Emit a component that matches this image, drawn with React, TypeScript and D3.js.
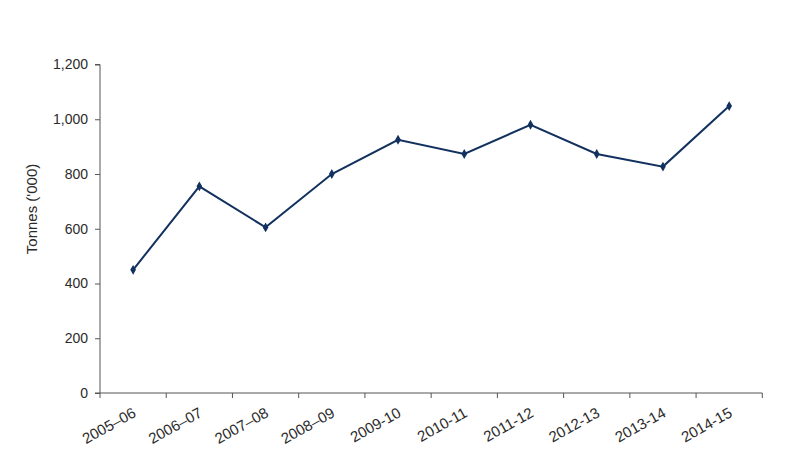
import React, { useEffect, useRef } from "react";
import * as d3 from "d3";

const years = [
  "2005–06",
  "2006–07",
  "2007–08",
  "2008–09",
  "2009-10",
  "2010-11",
  "2011-12",
  "2012-13",
  "2013-14",
  "2014-15",
];
const tonnes = [450, 755, 605, 800, 925, 873, 980, 873, 827, 1048];
const yTicks = [0, 200, 400, 600, 800, 1000, 1200];

const W = 800;
const H = 456;

const App: React.FC = () => {
  const ref = useRef<SVGSVGElement | null>(null);

  useEffect(() => {
    const svg = d3.select(ref.current);
    svg.selectAll("*").remove();

    svg.append("rect").attr("width", W).attr("height", H).attr("fill", "#ffffff");

    const left = 100;
    const right = 762.3;
    const top = 64.5;
    const bottom = 393;

    const x = d3.scaleBand<string>().domain(years).range([left, right]);
    const y = d3.scaleLinear().domain([0, 1200]).range([bottom, top]);

    const font = "'Liberation Sans', Arial, sans-serif";
    const axisColor = "#555";
    const textColor = "#2b2b2b";

    // y axis
    const yAxis = svg
      .append("g")
      .attr("transform", `translate(${left},0)`)
      .call(
        d3
          .axisLeft(y)
          .tickValues(yTicks)
          .tickSize(5)
          .tickPadding(7)
          .tickFormat((d) => d3.format(",")(d as number))
      );
    yAxis.select(".domain").attr("stroke", axisColor).attr("d", `M-5,${top}H0V${bottom}H-5`);
    yAxis.selectAll(".tick line").attr("stroke", axisColor);
    yAxis
      .selectAll(".tick text")
      .attr("fill", textColor)
      .style("font-family", font)
      .style("font-size", "14px");

    // x axis, ticks sit on category boundaries
    const xg = svg.append("g");
    xg.append("line")
      .attr("x1", left)
      .attr("x2", right)
      .attr("y1", bottom)
      .attr("y2", bottom)
      .attr("stroke", axisColor);
    const bounds = years.map((d) => x(d)!).concat([right]);
    xg.selectAll("line.tk")
      .data(bounds)
      .enter()
      .append("line")
      .attr("class", "tk")
      .attr("x1", (d) => d)
      .attr("x2", (d) => d)
      .attr("y1", bottom)
      .attr("y2", bottom + 5)
      .attr("stroke", axisColor);
    xg.selectAll("text")
      .data(years)
      .enter()
      .append("text")
      .attr(
        "transform",
        (d) => `translate(${x(d)! + x.bandwidth() / 2 + 4},416) rotate(-29)`
      )
      .attr("text-anchor", "end")
      .attr("fill", textColor)
      .style("font-family", font)
      .style("font-size", "15px")
      .text((d) => d);

    // y title
    svg
      .append("text")
      .attr("transform", `translate(37,209) rotate(-90)`)
      .attr("text-anchor", "middle")
      .attr("fill", textColor)
      .style("font-family", font)
      .style("font-size", "15px")
      .text("Tonnes ('000)");

    // line + diamond markers
    const lineColor = "#12315f";
    const pts = years.map((d, i) => ({ d, v: tonnes[i] }));
    const line = d3
      .line<{ d: string; v: number }>()
      .x((p) => x(p.d)! + x.bandwidth() / 2)
      .y((p) => y(p.v));
    svg
      .append("path")
      .datum(pts)
      .attr("d", line)
      .attr("fill", "none")
      .attr("stroke", lineColor)
      .attr("stroke-width", 2);

    svg
      .selectAll("path.mk")
      .data(pts)
      .enter()
      .append("path")
      .attr("class", "mk")
      .attr("d", d3.symbol().type(d3.symbolDiamond).size(28)())
      .attr(
        "transform",
        (p) => `translate(${x(p.d)! + x.bandwidth() / 2},${y(p.v)})`
      )
      .attr("fill", lineColor);
  }, []);

  return (
    <svg
      ref={ref}
      width={W}
      height={H}
      viewBox={`0 0 ${W} ${H}`}
      style={{ position: "absolute", left: 0, top: 0, display: "block" }}
    />
  );
};

export default App;
